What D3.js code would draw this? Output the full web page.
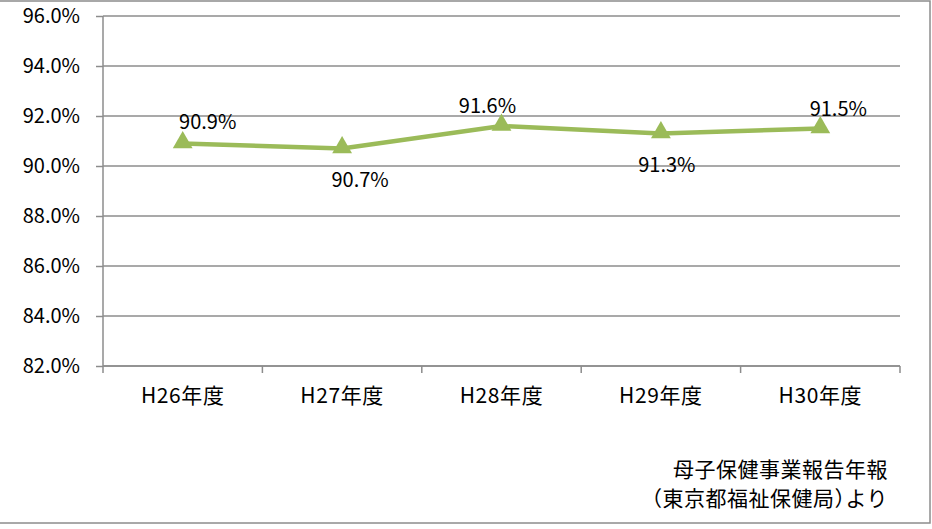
<!DOCTYPE html>
<html>
<head>
<meta charset="utf-8">
<script src="https://cdn.jsdelivr.net/npm/d3@7"></script>
<style>
  body { margin: 0; background: #fff; }
  svg { display: block; font-family: "Noto Sans CJK JP", sans-serif; }
</style>
</head>
<body>
<svg id="chart"></svg>
<script>
let width = 932;
let height = 529;

let categories = ['H26年度', 'H27年度', 'H28年度', 'H29年度', 'H30年度'];
let values = [90.9, 90.7, 91.6, 91.3, 91.5];
let yTicks = [82, 84, 86, 88, 90, 92, 94, 96];
let sourceLines = ['母子保健事業報告年報', '（東京都福祉保健局）より'];

// label placement relative to the marker (dx, dy)
let labelOffsets = [[25, -23], [18, 30], [-14, -22], [6, 30], [18, -21]];

let margin = { left: 103, right: 32, top: 16, bottom: 163 };
let font = '"Noto Sans CJK JP", sans-serif';

let svg = d3.select('#chart').attr('width', width).attr('height', height);

// chart frame
svg.append('rect')
  .attr('x', -1).attr('y', 1)
  .attr('width', 931).attr('height', 522)
  .attr('fill', 'none').attr('stroke', '#8c8c8c').attr('stroke-width', 1.5);

let x = d3.scaleBand()
  .domain(categories)
  .range([margin.left, width - margin.right]);

let y = d3.scaleLinear()
  .domain([82, 96])
  .range([height - margin.bottom, margin.top]);

// gridlines
svg.append('g')
  .selectAll('line')
  .data(yTicks)
  .enter()
  .append('line')
  .attr('x1', margin.left)
  .attr('x2', width - margin.right)
  .attr('y1', (d) => y(d))
  .attr('y2', (d) => y(d))
  .attr('stroke', '#8c8c8c')
  .attr('stroke-width', 1.5);

let yAxis = svg.append('g')
  .attr('transform', `translate(${margin.left},0)`)
  .call(d3.axisLeft(y).tickValues(yTicks).tickFormat((d) => d.toFixed(1) + '%').tickSize(7).tickPadding(16));

let xAxis = svg.append('g')
  .attr('transform', `translate(0,${y(82)})`)
  .call(d3.axisBottom(x).tickSize(0).tickPadding(22));

// x ticks on band boundaries
xAxis.selectAll('.bound')
  .data(d3.range(categories.length + 1))
  .enter()
  .append('line')
  .attr('class', 'bound')
  .attr('x1', (i) => margin.left + i * x.step())
  .attr('x2', (i) => margin.left + i * x.step())
  .attr('y1', 0)
  .attr('y2', 7)
  .attr('stroke', '#8c8c8c')
  .attr('stroke-width', 1.5);

[yAxis, xAxis].forEach((g) => {
  g.select('.domain').attr('stroke', '#8c8c8c').attr('stroke-width', 1.5);
  g.selectAll('.tick line').attr('stroke', '#8c8c8c').attr('stroke-width', 1.5);
  g.selectAll('text').attr('fill', '#000').style('font-size', '20px').style('font-family', font);
});
xAxis.selectAll('text').style('font-size', '21px').style('letter-spacing', '0.6px');
yAxis.select('.domain').attr('d', `M0,${y(96)}V${y(82)}`);
xAxis.select('.domain').attr('d', `M${margin.left},0H${width - margin.right}`);

let cx = (i) => x(categories[i]) + x.bandwidth() / 2;

let line = d3.line()
  .x((d, i) => cx(i))
  .y((d) => y(d));

svg.append('path')
  .datum(values)
  .attr('d', line)
  .attr('fill', 'none')
  .attr('stroke', '#9bbb59')
  .attr('stroke-width', 4.5);

let tri = d3.symbol().type(d3.symbolTriangle).size(170);

svg.append('g')
  .selectAll('path')
  .data(values)
  .enter()
  .append('path')
  .attr('d', tri)
  .attr('transform', (d, i) => `translate(${cx(i)},${y(d) - 1})`)
  .attr('fill', '#9bbb59');

svg.append('g')
  .selectAll('text')
  .data(values)
  .enter()
  .append('text')
  .attr('x', (d, i) => cx(i) + labelOffsets[i][0])
  .attr('y', (d, i) => y(d) + labelOffsets[i][1])
  .attr('text-anchor', 'middle')
  .attr('dominant-baseline', 'central')
  .style('font-size', '20px')
  .text((d) => d.toFixed(1) + '%');

svg.append('g')
  .selectAll('text')
  .data(sourceLines)
  .enter()
  .append('text')
  .attr('x', 888)
  .attr('y', (d, i) => 468 + i * 29)
  .attr('text-anchor', 'end')
  .attr('dominant-baseline', 'central')
  .style('font-size', '21px')
  .style('letter-spacing', '0.5px')
  .style('font-feature-settings', '"halt"')
  .text((d) => d);
</script>
</body>
</html>
